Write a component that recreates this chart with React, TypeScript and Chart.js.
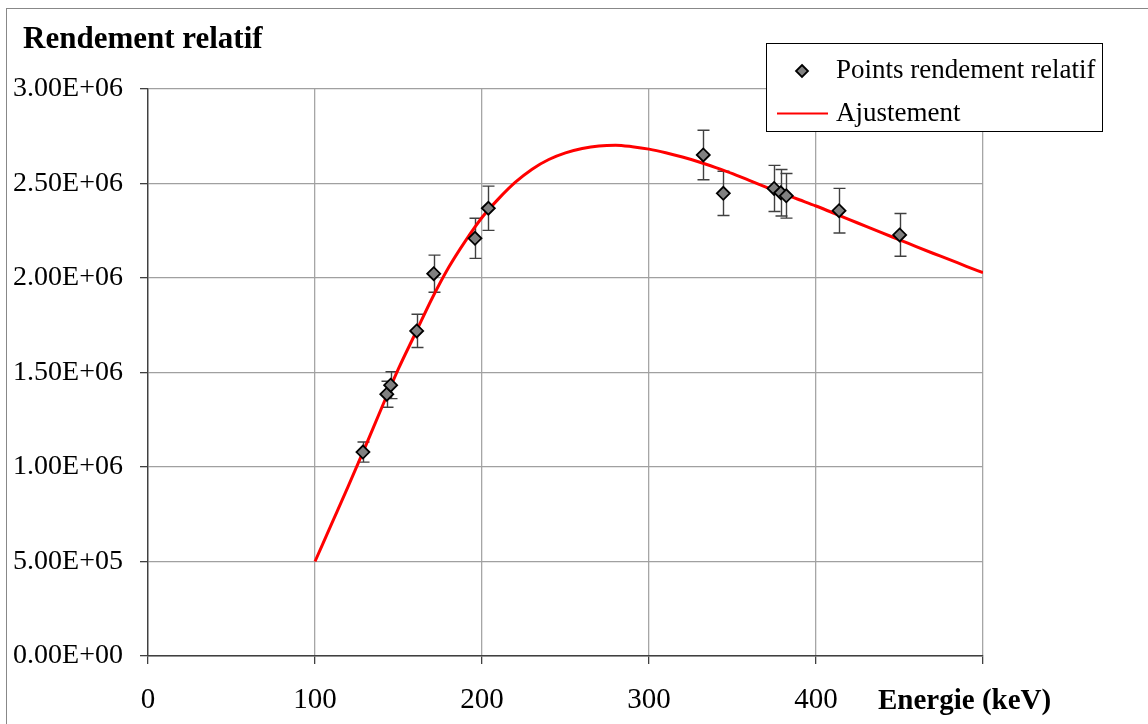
import React, { useEffect, useRef } from 'react';
import { Chart, registerables } from 'chart.js';

Chart.register(...registerables);

// Measured points (Energie keV, rendement relatif, error)
const energies = [128.7, 143.0, 145.3, 160.9, 171.1, 195.8, 203.8, 332.5, 344.5, 374.9, 378.9, 382.2, 413.8, 450.1];
const yields = [1.079e6, 1.385e6, 1.433e6, 1.72e6, 2.023e6, 2.21e6, 2.369e6, 2.651e6, 2.448e6, 2.474e6, 2.451e6, 2.435e6, 2.356e6, 2.228e6];
const yieldErrors = [53e3, 69e3, 71e3, 88e3, 98e3, 106e3, 117e3, 131e3, 117e3, 122e3, 123e3, 118e3, 118e3, 113e3];

// Fitted curve (Ajustement)
const fitEnergies = [100, 110, 120, 130, 140, 150, 160, 170, 180, 190, 200, 210, 220, 230, 240, 250, 260, 270, 280, 290, 300, 310, 320, 330, 340, 350, 360, 370, 380, 390, 400, 410, 420, 430, 440, 450, 460, 470, 480, 490, 500];
const fitYields = [0.5e6, 0.7e6, 0.9e6, 1.105e6, 1.315e6, 1.52e6, 1.705e6, 1.89e6, 2.055e6, 2.195e6, 2.32e6, 2.42e6, 2.507e6, 2.576e6, 2.627e6, 2.662e6, 2.685e6, 2.699e6, 2.703e6, 2.695e6, 2.682e6, 2.663e6, 2.64e6, 2.614e6, 2.584e6, 2.552e6, 2.516e6, 2.481e6, 2.447e6, 2.414e6, 2.381e6, 2.345e6, 2.309e6, 2.273e6, 2.237e6, 2.202e6, 2.166e6, 2.131e6, 2.097e6, 2.062e6, 2.028e6];

const xTickLabels = ['0', '100', '200', '300', '400', ''];
const yTickLabels = ['0.00E+00', '5.00E+05', '1.00E+06', '1.50E+06', '2.00E+06', '2.50E+06', '3.00E+06'];

const seriesLabels = ['Points rendement relatif', 'Ajustement'];
const chartTitle = 'Rendement relatif';
const xAxisTitle = 'Energie (keV)';

const SERIF = '"Liberation Serif", "Times New Roman", serif';

const errorBarPlugin = {
  id: 'errorBars',
  beforeDatasetsDraw(chart: any) {
    const { ctx, scales } = chart;
    const xs = scales.x;
    const ys = scales.y;
    ctx.save();
    ctx.strokeStyle = '#404040';
    ctx.lineWidth = 1.4;
    energies.forEach((e, i) => {
      const px = Math.round(xs.getPixelForValue(e)) + 0.5;
      const top = ys.getPixelForValue(yields[i] + yieldErrors[i]);
      const bot = ys.getPixelForValue(yields[i] - yieldErrors[i]);
      ctx.beginPath();
      ctx.moveTo(px, top);
      ctx.lineTo(px, bot);
      ctx.moveTo(px - 6, top);
      ctx.lineTo(px + 6, top);
      ctx.moveTo(px - 6, bot);
      ctx.lineTo(px + 6, bot);
      ctx.stroke();
    });
    ctx.restore();
  },
};

const annotationPlugin = {
  id: 'annotations',
  afterDraw(chart: any) {
    const { ctx, chartArea } = chart;
    ctx.save();
    // Chart title
    ctx.fillStyle = '#000';
    ctx.font = `bold 31px ${SERIF}`;
    ctx.textAlign = 'left';
    ctx.textBaseline = 'alphabetic';
    ctx.fillText(chartTitle, 23, 48);

    // X axis title
    ctx.font = `bold 29px ${SERIF}`;
    ctx.fillText(xAxisTitle, chartArea.right - 105, 709);

    // Legend box
    const bx = 766.5, by = 43.5, bw = 336, bh = 88;
    ctx.fillStyle = '#fff';
    ctx.fillRect(bx, by, bw, bh);
    ctx.strokeStyle = '#000';
    ctx.lineWidth = 1;
    ctx.strokeRect(bx, by, bw, bh);

    const ds0 = chart.data.datasets[0];
    const ds1 = chart.data.datasets[1];
    // marker
    const mx = 802, my = 71, r = 6;
    ctx.beginPath();
    ctx.moveTo(mx, my - r);
    ctx.lineTo(mx + r, my);
    ctx.lineTo(mx, my + r);
    ctx.lineTo(mx - r, my);
    ctx.closePath();
    ctx.fillStyle = ds0.backgroundColor;
    ctx.fill();
    ctx.strokeStyle = ds0.borderColor;
    ctx.lineWidth = 1.8;
    ctx.stroke();
    // line
    ctx.beginPath();
    ctx.moveTo(777, 113.5);
    ctx.lineTo(828, 113.5);
    ctx.strokeStyle = ds1.borderColor;
    ctx.lineWidth = 2;
    ctx.stroke();

    ctx.fillStyle = '#000';
    ctx.font = `27px ${SERIF}`;
    ctx.fillText(ds0.label, 836, 78);
    ctx.fillText(ds1.label, 836, 121);
    ctx.restore();
  },
};

export default function App() {
  const canvasRef = useRef<HTMLCanvasElement | null>(null);

  useEffect(() => {
    if (!canvasRef.current) return;
    const chart = new Chart(canvasRef.current, {
      type: 'scatter',
      data: {
        datasets: [
          {
            label: seriesLabels[0],
            data: energies.map((e, i) => ({ x: e, y: yields[i] })),
            pointStyle: 'rectRot',
            pointRadius: 6.5,
            pointBorderWidth: 1.8,
            backgroundColor: '#808080',
            borderColor: '#000000',
            showLine: false,
            order: 0,
          },
          {
            label: seriesLabels[1],
            data: fitEnergies.map((e, i) => ({ x: e, y: fitYields[i] })),
            showLine: true,
            pointRadius: 0,
            borderColor: '#ff0000',
            backgroundColor: '#ff0000',
            borderWidth: 3,
            cubicInterpolationMode: 'monotone',
            order: 1,
          },
        ],
      },
      options: {
        responsive: false,
        maintainAspectRatio: false,
        animation: false,
        devicePixelRatio: 1,
        layout: { padding: { top: 89, right: 165, left: 0, bottom: 0 } },
        plugins: {
          legend: { display: false },
          title: { display: false },
          tooltip: { enabled: false },
        },
        scales: {
          x: {
            type: 'linear',
            min: 0,
            max: 500,
            afterFit(scale: any) {
              scale.height = 68;
            },
            ticks: {
              stepSize: 100,
              padding: 19,
              color: '#000',
              font: { family: SERIF, size: 29 },
              maxRotation: 0,
              callback: (_v: any, i: number) => xTickLabels[i],
            },
            grid: {
              color: '#a6a6a6',
              lineWidth: 1.3,
              tickColor: '#404040',
              tickLength: 8,
              drawTicks: true,
            },
            border: { color: '#404040', width: 1.4 },
          },
          y: {
            type: 'linear',
            min: 0,
            max: 3e6,
            afterFit(scale: any) {
              scale.width = 148;
            },
            ticks: {
              stepSize: 5e5,
              padding: 17,
              color: '#000',
              font: { family: SERIF, size: 28 },
              callback: (_v: any, i: number) => yTickLabels[i],
            },
            grid: {
              color: '#a0a0a0',
              lineWidth: 1.3,
              tickColor: '#404040',
              tickLength: 8,
            },
            border: { color: '#404040', width: 1.4 },
          },
        },
      },
      plugins: [errorBarPlugin, annotationPlugin],
    } as any);
    return () => chart.destroy();
  }, []);

  return (
    <div style={{ position: 'absolute', left: 0, top: 0, width: 1148, height: 724, overflow: 'hidden', background: '#fff' }}>
      <div style={{ position: 'absolute', left: 6, top: 8, width: 1200, height: 800, border: '1px solid #888' }} />
      <canvas ref={canvasRef} width={1148} height={724} style={{ position: 'absolute', left: 0, top: 0 }} />
    </div>
  );
}
